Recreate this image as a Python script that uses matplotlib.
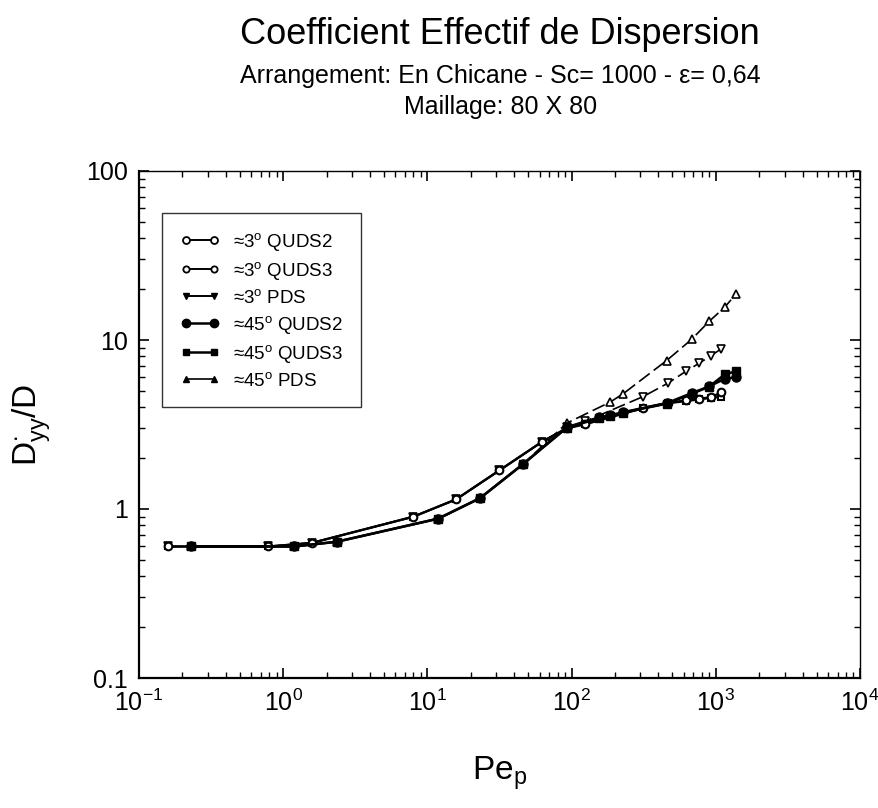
import matplotlib
matplotlib.use("Agg")
import matplotlib.pyplot as plt
from matplotlib.lines import Line2D
from matplotlib.ticker import LogLocator, FixedLocator, FixedFormatter, NullFormatter

plt.rcParams['font.family'] = ['Liberation Sans', 'DejaVu Sans']
plt.rcParams['mathtext.default'] = 'regular'

# ---- data ----
pe_3 = [0.158, 0.79, 1.58, 7.98, 15.8, 31.5, 62, 93, 124, 314, 465, 621, 765, 930, 1088]
d_3_quds2 = [0.60, 0.60, 0.63, 0.90, 1.14, 1.69, 2.49, 3.02, 3.19, 3.97, 4.25, 4.39, 4.49, 4.59, 4.90]
d_3_quds3 = [0.60, 0.60, 0.63, 0.90, 1.14, 1.69, 2.49, 3.00, 3.17, 3.95, 4.22, 4.35, 4.45, 4.55, 4.63]
d_3_pds = [0.60, 0.60, 0.63, 0.90, 1.14, 1.69, 2.49, 3.05, 3.30, 4.63, 5.55, 6.53, 7.28, 8.09, 8.86]

pe_45 = [0.23, 1.19, 2.35, 11.9, 23.2, 46.3, 92.5, 156, 185, 228, 456, 681, 900, 1150, 1380]
d_45_quds2 = [0.60, 0.60, 0.64, 0.877, 1.16, 1.85, 3.05, 3.49, 3.58, 3.74, 4.23, 4.85, 5.31, 5.89, 6.02]
d_45_quds3 = [0.60, 0.60, 0.64, 0.877, 1.16, 1.85, 3.02, 3.45, 3.55, 3.72, 4.20, 4.80, 5.30, 6.25, 6.53]

pe_45_pds = [0.23, 1.19, 2.35, 11.9, 23.2, 46.3, 92.5, 185, 228, 456, 681, 900, 1150, 1380]
d_45_pds = [0.60, 0.60, 0.64, 0.877, 1.16, 1.85, 3.22, 4.29, 4.81, 7.56, 10.1, 12.9, 15.6, 18.7]

legend_labels = ['≈3$^o$ QUDS2', '≈3$^o$ QUDS3', '≈3$^o$ PDS',
                 '≈45$^o$ QUDS2', '≈45$^o$ QUDS3', '≈45$^o$ PDS']
x_ticks = [0.1, 1, 10, 100, 1000, 10000]
x_tick_labels = ['10$^{-1}$', '10$^{0}$', '10$^{1}$', '10$^{2}$', '10$^{3}$', '10$^{4}$']
y_ticks = [0.1, 1, 10, 100]
y_tick_labels = ['0.1', '1', '10', '100']

# ---- figure ----
fig = plt.figure(figsize=(8.79, 8.08), dpi=100)
ax = fig.add_axes([139/879, (808-678)/808, 721/879, 507/808])

k = 'black'
# draw order: dashed PDS first, then QUDS curves on top
ax.plot(pe_45_pds, d_45_pds, '--', color=k, lw=1.2, dashes=(8, 3), marker='^', ms=5.5,
        mfc='white', mec=k, mew=1.2, zorder=2)
ax.plot(pe_3, d_3_pds, '--', color=k, lw=1.2, dashes=(8, 3), marker='v', ms=5.5,
        mfc='white', mec=k, mew=1.2, zorder=2)
ax.plot(pe_3, d_3_quds3, '-', color=k, lw=1.6, marker='s', ms=5, mfc='white', mec=k, mew=1.5, zorder=3)
ax.plot(pe_3, d_3_quds2, '-', color=k, lw=1.6, marker='o', ms=5.5, mfc='white', mec=k, mew=1.5, zorder=4)
ax.plot(pe_45, d_45_quds2, '-', color=k, lw=1.8, marker='o', ms=6.5, mfc=k, mec=k, zorder=5)
ax.plot(pe_45, d_45_quds3, '-', color=k, lw=1.8, marker='s', ms=5.5, mfc=k, mec=k, zorder=6)

ax.set_xscale('log')
ax.set_yscale('log')
ax.set_xlim(0.1, 10000)
ax.set_ylim(0.1, 100)

ax.xaxis.set_major_locator(FixedLocator(x_ticks))
ax.xaxis.set_major_formatter(FixedFormatter(x_tick_labels))
ax.yaxis.set_major_locator(FixedLocator(y_ticks))
ax.yaxis.set_major_formatter(FixedFormatter(y_tick_labels))
ax.xaxis.set_minor_locator(LogLocator(base=10, subs=range(2, 10), numticks=20))
ax.yaxis.set_minor_locator(LogLocator(base=10, subs=range(2, 10), numticks=20))
ax.xaxis.set_minor_formatter(NullFormatter())
ax.yaxis.set_minor_formatter(NullFormatter())

ax.tick_params(which='both', direction='in', top=True, right=True, colors=k)
ax.tick_params(which='major', length=7, width=1.2, labelsize=18, pad=8)
ax.tick_params(which='minor', length=4, width=1.0)
for s in ['left', 'bottom']:
    ax.spines[s].set_linewidth(1.6)
for s in ['top', 'right']:
    ax.spines[s].set_linewidth(1.0)

ax.set_xlabel('Pe$_p$', fontsize=24, labelpad=28)
ax.set_ylabel('D$^{\\bullet}_{yy}$/D', fontsize=24, labelpad=24)

handles = [
    Line2D([], [], color=k, lw=1.4, marker='o', ms=5, mfc='white', mec=k, mew=1.3),
    Line2D([], [], color=k, lw=1.4, marker='o', ms=4.5, mfc='white', mec=k, mew=1.3),
    Line2D([], [], color=k, lw=1.4, marker='v', ms=5, mfc=k, mec=k),
    Line2D([], [], color=k, lw=1.8, marker='o', ms=6, mfc=k, mec=k),
    Line2D([], [], color=k, lw=1.8, marker='s', ms=5, mfc=k, mec=k),
    Line2D([], [], color=k, lw=1.2, marker='^', ms=5, mfc=k, mec=k),
]
leg = ax.legend(handles, legend_labels, loc='upper left', bbox_to_anchor=(0.032, 0.917),
                borderaxespad=0, fontsize=13.5, frameon=True, fancybox=False,
                edgecolor=k, handlelength=2.1, handletextpad=0.75, labelspacing=0.37,
                borderpad=0.95, numpoints=2)
leg.get_frame().set_linewidth(1.0)

fig.text(0.569, 1 - 35/808, 'Coefficient Effectif de Dispersion', ha='center', va='center', fontsize=26)
fig.text(0.569, 1 - 76/808, 'Arrangement: En Chicane - Sc= 1000 - ε= 0,64', ha='center', va='center', fontsize=18)
fig.text(0.569, 1 - 107/808, 'Maillage: 80 X 80', ha='center', va='center', fontsize=18)

fig.savefig('out.png', dpi=100)
